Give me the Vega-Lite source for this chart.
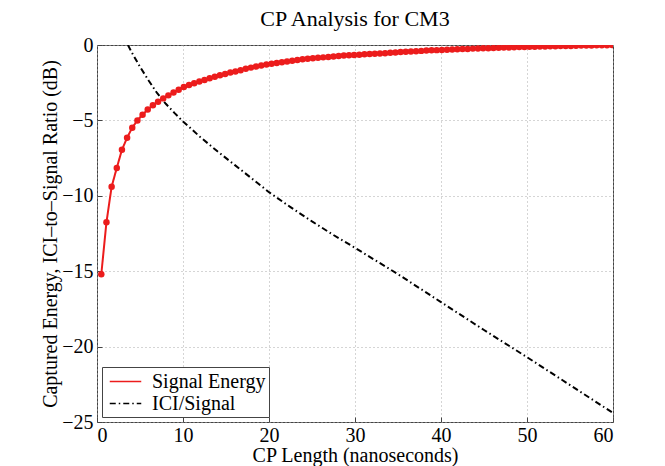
{
  "$schema": "https://vega.github.io/schema/vega-lite/v6.json",
  "width": 516,
  "height": 377,
  "autosize": {"type": "none"},
  "padding": {"left": 97, "top": 45, "right": 52, "bottom": 44},
  "background": "white",
  "title": {"text": "CP Analysis for CM3", "font": "Liberation Serif", "fontSize": 22, "fontWeight": "normal", "color": "black", "offset": 4},
  "config": {
    "view": {"stroke": "#444", "strokeWidth": 1},
    "axis": {
      "labelFont": "Liberation Serif", "labelFontSize": 20, "labelColor": "black",
      "titleFont": "Liberation Serif", "titleFontSize": 20, "titleFontWeight": "normal", "titleColor": "black",
      "gridColor": "#aaa", "gridDash": [1, 3], "gridWidth": 1,
      "domain": false, "tickColor": "#444", "tickSize": -5
    },
    "legend": {
      "orient": "bottom-left", "offset": 5,
      "labelFont": "Liberation Serif", "labelFontSize": 20, "labelColor": "black",
      "strokeColor": "#444", "fillColor": "white", "padding": 3,
      "symbolType": "M-1.5,0L1.5,0", "symbolSize": 441, "symbolStrokeWidth": 1.6, "symbolOffset": 9, "rowPadding": 0, "labelOffset": 15
    }
  },
  "data": {"values": [
    {"s":"Signal Energy","x":0.5,"y":-15.2},{"s":"Signal Energy","x":1.1,"y":-11.75},{"s":"Signal Energy","x":1.7,"y":-9.4},{"s":"Signal Energy","x":2.3,"y":-8.15},{"s":"Signal Energy","x":2.9,"y":-6.95},
    {"s":"Signal Energy","x":3.5,"y":-6.15},{"s":"Signal Energy","x":4.1,"y":-5.48},{"s":"Signal Energy","x":4.7,"y":-5.0},{"s":"Signal Energy","x":5.3,"y":-4.62},{"s":"Signal Energy","x":5.9,"y":-4.28},
    {"s":"Signal Energy","x":6.5,"y":-4.0},{"s":"Signal Energy","x":7.1,"y":-3.76},{"s":"Signal Energy","x":7.7,"y":-3.54},{"s":"Signal Energy","x":8.3,"y":-3.34},{"s":"Signal Energy","x":8.9,"y":-3.15},
    {"s":"Signal Energy","x":9.5,"y":-2.97},{"s":"Signal Energy","x":10.1,"y":-2.78},{"s":"Signal Energy","x":10.7,"y":-2.65},{"s":"Signal Energy","x":11.3,"y":-2.53},{"s":"Signal Energy","x":11.9,"y":-2.42},
    {"s":"Signal Energy","x":12.5,"y":-2.32},{"s":"Signal Energy","x":13.1,"y":-2.21},{"s":"Signal Energy","x":13.7,"y":-2.11},{"s":"Signal Energy","x":14.3,"y":-2.01},{"s":"Signal Energy","x":14.9,"y":-1.92},
    {"s":"Signal Energy","x":15.5,"y":-1.83},{"s":"Signal Energy","x":16.1,"y":-1.75},{"s":"Signal Energy","x":16.7,"y":-1.67},{"s":"Signal Energy","x":17.3,"y":-1.58},{"s":"Signal Energy","x":17.9,"y":-1.5},
    {"s":"Signal Energy","x":18.5,"y":-1.43},{"s":"Signal Energy","x":19.1,"y":-1.36},{"s":"Signal Energy","x":19.7,"y":-1.3},{"s":"Signal Energy","x":20.3,"y":-1.25},{"s":"Signal Energy","x":20.9,"y":-1.2},
    {"s":"Signal Energy","x":21.5,"y":-1.14},{"s":"Signal Energy","x":22.1,"y":-1.09},{"s":"Signal Energy","x":22.7,"y":-1.04},{"s":"Signal Energy","x":23.3,"y":-0.99},{"s":"Signal Energy","x":23.9,"y":-0.95},
    {"s":"Signal Energy","x":24.5,"y":-0.91},{"s":"Signal Energy","x":25.1,"y":-0.88},{"s":"Signal Energy","x":25.7,"y":-0.85},{"s":"Signal Energy","x":26.3,"y":-0.82},{"s":"Signal Energy","x":26.9,"y":-0.79},
    {"s":"Signal Energy","x":27.5,"y":-0.76},{"s":"Signal Energy","x":28.1,"y":-0.73},{"s":"Signal Energy","x":28.7,"y":-0.7},{"s":"Signal Energy","x":29.3,"y":-0.68},{"s":"Signal Energy","x":29.9,"y":-0.66},
    {"s":"Signal Energy","x":30.5,"y":-0.64},{"s":"Signal Energy","x":31.1,"y":-0.62},{"s":"Signal Energy","x":31.7,"y":-0.6},{"s":"Signal Energy","x":32.3,"y":-0.58},{"s":"Signal Energy","x":32.9,"y":-0.56},
    {"s":"Signal Energy","x":33.5,"y":-0.54},{"s":"Signal Energy","x":34.1,"y":-0.51},{"s":"Signal Energy","x":34.7,"y":-0.49},{"s":"Signal Energy","x":35.3,"y":-0.47},{"s":"Signal Energy","x":35.9,"y":-0.45},
    {"s":"Signal Energy","x":36.5,"y":-0.43},{"s":"Signal Energy","x":37.1,"y":-0.41},{"s":"Signal Energy","x":37.7,"y":-0.39},{"s":"Signal Energy","x":38.3,"y":-0.37},{"s":"Signal Energy","x":38.9,"y":-0.35},
    {"s":"Signal Energy","x":39.5,"y":-0.34},{"s":"Signal Energy","x":40.1,"y":-0.33},{"s":"Signal Energy","x":40.7,"y":-0.31},{"s":"Signal Energy","x":41.3,"y":-0.3},{"s":"Signal Energy","x":41.9,"y":-0.28},
    {"s":"Signal Energy","x":42.5,"y":-0.27},{"s":"Signal Energy","x":43.1,"y":-0.26},{"s":"Signal Energy","x":43.7,"y":-0.24},{"s":"Signal Energy","x":44.3,"y":-0.23},{"s":"Signal Energy","x":44.9,"y":-0.22},
    {"s":"Signal Energy","x":45.5,"y":-0.21},{"s":"Signal Energy","x":46.1,"y":-0.2},{"s":"Signal Energy","x":46.7,"y":-0.19},{"s":"Signal Energy","x":47.3,"y":-0.17},{"s":"Signal Energy","x":47.9,"y":-0.16},
    {"s":"Signal Energy","x":48.5,"y":-0.15},{"s":"Signal Energy","x":49.1,"y":-0.14},{"s":"Signal Energy","x":49.7,"y":-0.13},{"s":"Signal Energy","x":50.3,"y":-0.12},{"s":"Signal Energy","x":50.9,"y":-0.11},
    {"s":"Signal Energy","x":51.5,"y":-0.1},{"s":"Signal Energy","x":52.1,"y":-0.1},{"s":"Signal Energy","x":52.7,"y":-0.09},{"s":"Signal Energy","x":53.3,"y":-0.08},{"s":"Signal Energy","x":53.9,"y":-0.07},
    {"s":"Signal Energy","x":54.5,"y":-0.06},{"s":"Signal Energy","x":55.1,"y":-0.06},{"s":"Signal Energy","x":55.7,"y":-0.05},{"s":"Signal Energy","x":56.3,"y":-0.04},{"s":"Signal Energy","x":56.9,"y":-0.04},
    {"s":"Signal Energy","x":57.5,"y":-0.03},{"s":"Signal Energy","x":58.1,"y":-0.02},{"s":"Signal Energy","x":58.7,"y":-0.02},{"s":"Signal Energy","x":59.3,"y":-0.01},{"s":"Signal Energy","x":59.9,"y":0.0},
    {"s":"ICI/Signal","x":3.6,"y":0.0},{"s":"ICI/Signal","x":4,"y":-0.45},{"s":"ICI/Signal","x":5,"y":-1.45},{"s":"ICI/Signal","x":6,"y":-2.35},{"s":"ICI/Signal","x":7,"y":-3.2},
    {"s":"ICI/Signal","x":8,"y":-3.9},{"s":"ICI/Signal","x":9,"y":-4.5},{"s":"ICI/Signal","x":10,"y":-5.07},{"s":"ICI/Signal","x":12,"y":-6.1},{"s":"ICI/Signal","x":14,"y":-7.05},
    {"s":"ICI/Signal","x":16,"y":-7.95},{"s":"ICI/Signal","x":18,"y":-8.85},{"s":"ICI/Signal","x":20,"y":-9.76},{"s":"ICI/Signal","x":22.5,"y":-10.75},{"s":"ICI/Signal","x":25,"y":-11.7},
    {"s":"ICI/Signal","x":27.5,"y":-12.6},{"s":"ICI/Signal","x":30,"y":-13.45},{"s":"ICI/Signal","x":35,"y":-15.2},{"s":"ICI/Signal","x":40,"y":-17.05},{"s":"ICI/Signal","x":45,"y":-18.9},
    {"s":"ICI/Signal","x":50,"y":-20.7},{"s":"ICI/Signal","x":55,"y":-22.55},{"s":"ICI/Signal","x":60,"y":-24.4}
  ]},
  "encoding": {
    "x": {"field": "x", "type": "quantitative", "scale": {"domain": [0, 60], "nice": false}, "axis": {"values": [0, 10, 20, 30, 40, 50, 60], "title": "CP Length (nanoseconds)", "titlePadding": 0, "labelPadding": 8}},
    "y": {"field": "y", "type": "quantitative", "scale": {"domain": [-25, 0], "nice": false}, "axis": {"values": [-25, -20, -15, -10, -5, 0], "title": "Captured Energy, ICI–to–Signal Ratio (dB)", "titlePadding": 1, "labelPadding": 9}}
  },
  "layer": [
    {
      "mark": {"type": "line", "strokeWidth": 2, "clip": true},
      "encoding": {
        "color": {"field": "s", "type": "nominal", "scale": {"domain": ["Signal Energy", "ICI/Signal"], "range": ["#ec1c1c", "black"]}, "legend": {"title": null}},
        "strokeDash": {"field": "s", "type": "nominal", "scale": {"domain": ["Signal Energy", "ICI/Signal"], "range": [[1, 0], [6, 3, 1.5, 3]]}, "legend": {"title": null}}
      }
    },
    {
      "transform": [{"filter": "datum.s === 'Signal Energy'"}],
      "mark": {"type": "point", "filled": true, "color": "#ec1c1c", "size": 42, "opacity": 1, "clip": true}
    }
  ]
}
